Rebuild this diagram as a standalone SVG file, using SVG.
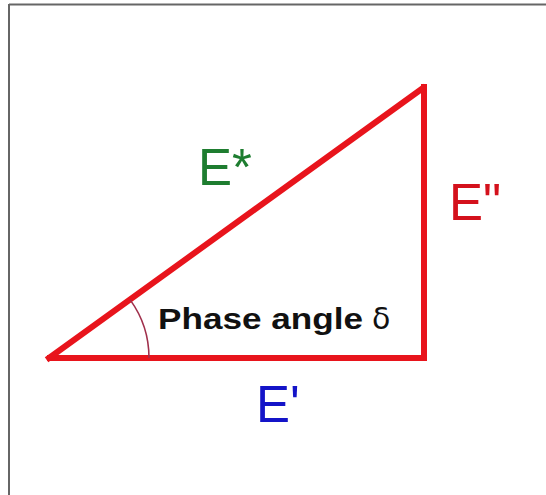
<svg xmlns="http://www.w3.org/2000/svg" width="546" height="495" viewBox="0 0 546 495">
<style>
.lbl{font-family:"Liberation Sans",Arial,sans-serif;font-size:51px}
.side{stroke:#e8141c;stroke-width:6;fill:none;stroke-linecap:square}
</style>
<rect x="0" y="0" width="546" height="495" fill="#ffffff"/>
<g id="frame" stroke="#666666" stroke-width="2" fill="none">
<line x1="9" y1="4.5" x2="546" y2="4.5"/>
<line x1="9" y1="4" x2="9" y2="495"/>
</g>
<g id="connectors">
<path class="side" d="M50 358 L424 358 L424 87" stroke-linejoin="miter"/>
<line class="side" x1="49" y1="358" x2="423" y2="88" stroke-linecap="round"/>
<path d="M149 358 A99 99 0 0 0 130.2 299.9" fill="none" stroke="#a0304c" stroke-width="1.6"/>
</g>
<g id="phase-angle" font-family="Liberation Sans, Arial, sans-serif" font-size="30" fill="#111111">
<text x="158" y="329" font-weight="bold" textLength="205" lengthAdjust="spacingAndGlyphs">Phase angle</text>
<text x="372" y="329" font-family="DejaVu Sans, sans-serif" font-size="30">δ</text>
</g>
<g id="E-star"><text class="lbl" x="198" y="185" fill="#1e7d30">E*</text></g>
<g id="E-double-prime"><text class="lbl" x="449" y="220" fill="#d4111c">E"</text></g>
<g id="E-prime"><text class="lbl" x="256" y="422" fill="#1414c8">E'</text></g>
</svg>
